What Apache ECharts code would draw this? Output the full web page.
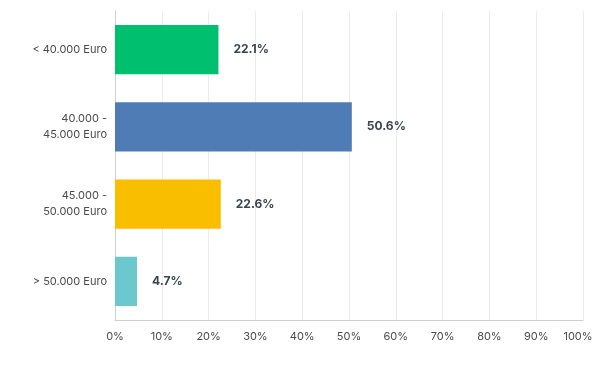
<!DOCTYPE html>
<html><head><meta charset="utf-8">
<script src="https://cdn.jsdelivr.net/npm/echarts@6/dist/echarts.min.js"></script>
<style>html,body{margin:0;padding:0;background:#fff}#c{width:594px;height:390px}</style>
</head><body><div id="c"></div>
<script>
const categories = ["< 40.000 Euro", "40.000 -\n45.000 Euro", "45.000 -\n50.000 Euro", "> 50.000 Euro"];
const values = [22.1, 50.6, 22.6, 4.7];
const colors = ["#00bf6f", "#507cb6", "#f9be00", "#6bc8cd"];
const xTicks = [0, 10, 20, 30, 40, 50, 60, 70, 80, 90, 100];

const chart = echarts.init(document.getElementById('c'), null, {renderer: 'canvas'});
chart.setOption({
  animation: false,
  grid: {left: 115, right: 11, top: 11, bottom: 70, containLabel: false, outerBoundsMode: 'none'},
  xAxis: {
    type: 'value', min: xTicks[0], max: xTicks[xTicks.length - 1], interval: 10,
    axisLine: {show: true, lineStyle: {color: '#cfcfcf'}},
    axisTick: {show: false},
    splitLine: {show: true, lineStyle: {color: '#ebebeb'}},
    axisLabel: {
      formatter: v => v === 100 ? '{m|100%}' : v + '%',
      rich: {m: {padding: [0, 10, 0, 0], color: '#4a4a4a', fontFamily: 'Inter', fontSize: 11}},
      color: '#4a4a4a', fontFamily: 'Inter', fontSize: 11, margin: 11
    }
  },
  yAxis: {
    type: 'category', data: categories, inverse: true,
    axisLine: {show: true, lineStyle: {color: '#cfcfcf'}},
    axisTick: {show: false},
    axisLabel: {color: '#4a4a4a', fontFamily: 'Inter', fontSize: 11, margin: 8, lineHeight: 16, align: 'right'}
  },
  series: [{
    type: 'bar',
    data: values.map((v, i) => ({value: v, itemStyle: {color: colors[i]}})),
    barCategoryGap: '36%',
    label: {show: true, position: 'right', distance: 15, formatter: p => p.value.toFixed(1) + '%',
      color: '#3b4450', fontWeight: 'bold', fontFamily: 'Inter', fontSize: 12}
  }]
});
</script></body></html>
